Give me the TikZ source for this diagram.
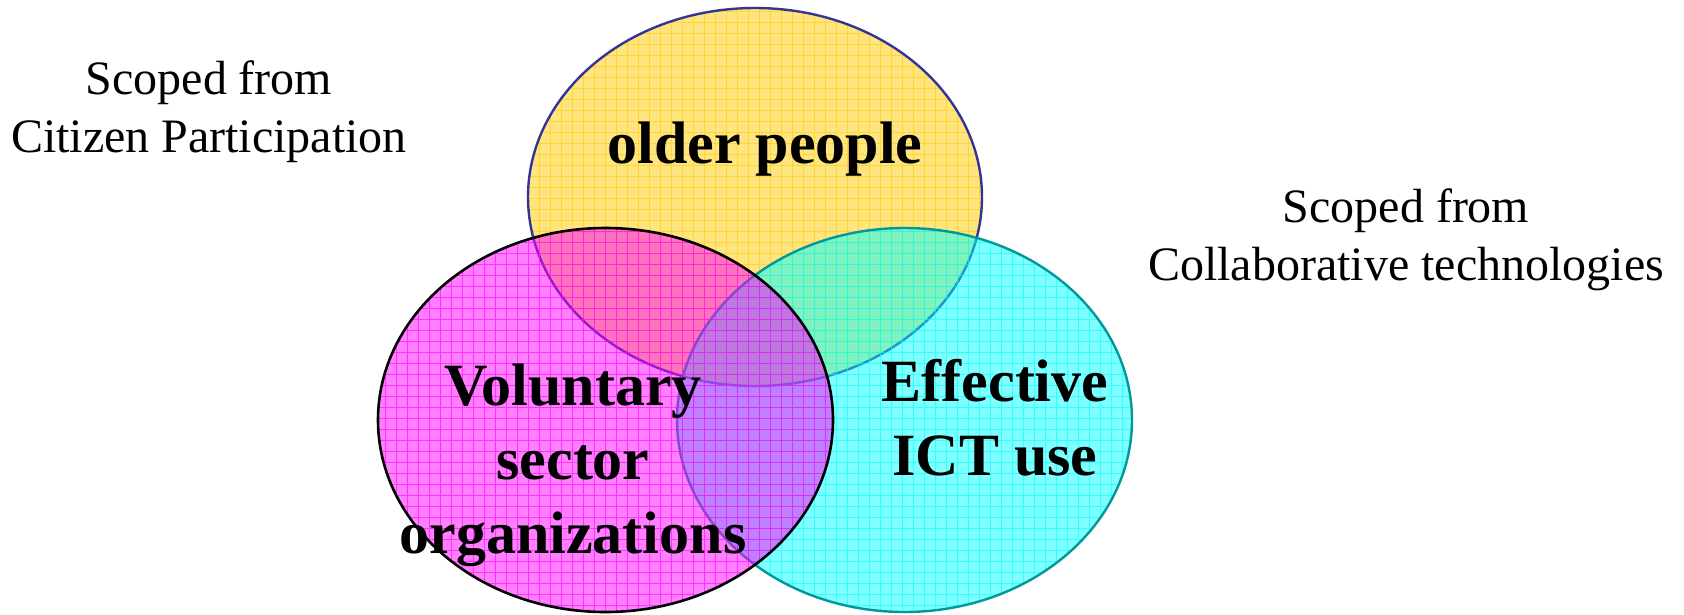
\documentclass[tikz,border=0pt]{standalone}
\usepackage{fontspec}
\setmainfont{Liberation Serif}
\definecolor{ygold}{RGB}{255,204,0}
\definecolor{ymag}{RGB}{255,0,255}
\definecolor{ycyan}{RGB}{0,255,255}
\definecolor{yline}{RGB}{51,51,153}
\definecolor{cline}{RGB}{0,153,153}
\tikzset{
  bigtxt/.style={font=\bfseries\fontsize{60}{74}\selectfont, align=center, inner sep=0pt},
  smalltxt/.style={font=\fontsize{48}{58}\selectfont, align=center, inner sep=0pt},
  gridlines/.style={line width=0.8pt, opacity=0.6},
}
\begin{document}
\begin{tikzpicture}[x=1pt,y=-1pt]
\useasboundingbox (0,0) rectangle (1684,614);
% yellow
\coordinate (cy) at (755,197);
\fill[ygold, opacity=0.5] (cy) ellipse [x radius=227, y radius=189];
\begin{scope}
  \clip (cy) ellipse [x radius=227, y radius=189];
  \draw[ygold, gridlines, step=11pt] (500,0) grid (1000,400);
\end{scope}
\draw[yline, line width=2.4pt] (cy) ellipse [x radius=227, y radius=189];
% cyan
\coordinate (cc) at (904.5,420);
\fill[ycyan, opacity=0.5] (cc) ellipse [x radius=227.5, y radius=192];
\begin{scope}
  \clip (cc) ellipse [x radius=227.5, y radius=192];
  \draw[ycyan, gridlines, step=11pt] (660,220) grid (1150,620);
\end{scope}
\draw[cline, line width=2.4pt] (cc) ellipse [x radius=227.5, y radius=192];
% magenta
\coordinate (cm) at (605.5,420);
\fill[ymag, opacity=0.5] (cm) ellipse [x radius=227.5, y radius=192];
\begin{scope}
  \clip (cm) ellipse [x radius=227.5, y radius=192];
  \draw[ymag, gridlines, step=11pt] (370,220) grid (840,620);
\end{scope}
\draw[black, line width=2.6pt] (cm) ellipse [x radius=227.5, y radius=192];
% texts
\node[bigtxt, anchor=base] (older) at (765,163) {older people};
\node[bigtxt] (vol) at (573,465) {Voluntary\\sector\\organizations};
\node[bigtxt] (ict) at (995,418) {Effective\\ICT use};
\node[smalltxt] (cit) at (209,112) {Scoped from\\Citizen Participation};
\node[smalltxt] (col) at (1406,240) {Scoped from\\Collaborative technologies};
\end{tikzpicture}
\end{document}
